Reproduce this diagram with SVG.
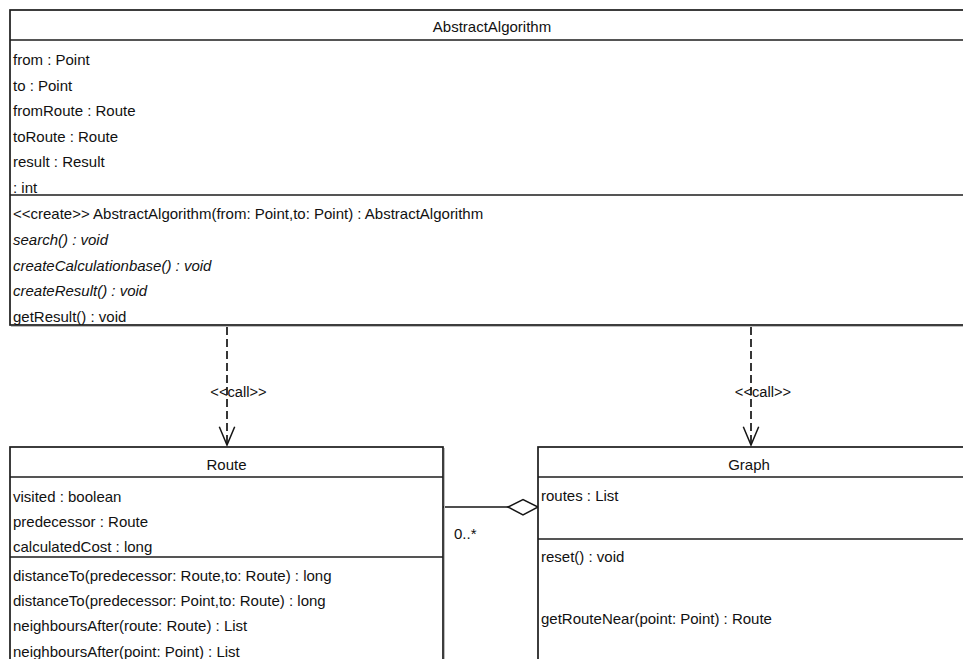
<svg xmlns="http://www.w3.org/2000/svg" width="963" height="659" viewBox="0 0 963 659">
  <defs>
    <style>
      .box { fill: #ffffff; stroke: #1c1c1c; stroke-width: 1.7; }
      .sep { stroke: #1c1c1c; stroke-width: 1.7; fill: none; }
      .shadow { stroke: #bdbdbd; stroke-width: 1; fill: none; }
      text { font-family: "Liberation Sans", Arial, sans-serif; font-size: 15px; fill: #111111; }
      .title { text-anchor: middle; }
      .it { font-style: italic; }
      .dep { stroke: #151515; stroke-width: 1.7; stroke-dasharray: 8 4; fill: none; }
      .head { stroke: #151515; stroke-width: 1.5; fill: none; }
      .assoc { stroke: #151515; stroke-width: 1.5; fill: none; }
      .diamond { stroke: #151515; stroke-width: 1.5; fill: #ffffff; }
      .lbl { font-size: 14.7px; text-anchor: middle; }
    </style>
  </defs>
  <rect width="963" height="659" fill="#ffffff"/>

  <g id="connectors">
    <!-- call dependency to Route -->
    <line class="dep" x1="227" y1="327" x2="227" y2="445"/>
    <polyline class="head" points="219.3,426.7 227,445 234.7,426.7"/>
    <text class="lbl" x="238.5" y="396.5">&lt;&lt;call&gt;&gt;</text>
    <!-- call dependency to Graph -->
    <line class="dep" x1="751" y1="327" x2="751" y2="445"/>
    <polyline class="head" points="743.3,426.7 751,445 758.7,426.7"/>
    <text class="lbl" x="763" y="396.5">&lt;&lt;call&gt;&gt;</text>
    <!-- aggregation Graph <>- Route -->
    <line class="assoc" x1="443" y1="507" x2="508" y2="507"/>
    <polygon class="diamond" points="508,507 523,499.7 538,507 523,515"/>
    <text x="454" y="539">0..*</text>
  </g>

  <g id="AbstractAlgorithm">
    <rect class="box" x="10" y="10" width="970" height="315"/>
    <line class="shadow" x1="11" y1="326.5" x2="963" y2="326.5"/>
    <line class="sep" x1="10" y1="40" x2="980" y2="40"/>
    <line class="sep" x1="10" y1="195" x2="980" y2="195"/>
    <text class="title" x="492" y="32">AbstractAlgorithm</text>
    <text x="13" y="65">from : Point</text>
    <text x="13" y="90.5">to : Point</text>
    <text x="13" y="116">fromRoute : Route</text>
    <text x="13" y="141.5">toRoute : Route</text>
    <text x="13" y="167">result : Result</text>
    <text x="13" y="192.5">: int</text>
    <text x="13" y="219">&lt;&lt;create&gt;&gt; AbstractAlgorithm(from: Point,to: Point) : AbstractAlgorithm</text>
    <text class="it" x="13" y="245">search() : void</text>
    <text class="it" x="13" y="270.5">createCalculationbase() : void</text>
    <text class="it" x="13" y="296">createResult() : void</text>
    <text x="13" y="321.5">getResult() : void</text>
  </g>

  <g id="Route">
    <rect class="box" x="10" y="447" width="433" height="230"/>
    <line class="shadow" x1="444.5" y1="448" x2="444.5" y2="659"/>
    <line class="sep" x1="10" y1="477" x2="443" y2="477"/>
    <line class="sep" x1="10" y1="557" x2="443" y2="557"/>
    <text class="title" x="226.5" y="469.5">Route</text>
    <text x="13" y="501.5">visited : boolean</text>
    <text x="13" y="527.4">predecessor : Route</text>
    <text x="13" y="552.4">calculatedCost : long</text>
    <text x="13" y="580.7">distanceTo(predecessor: Route,to: Route) : long</text>
    <text x="13" y="606.4">distanceTo(predecessor: Point,to: Route) : long</text>
    <text x="13" y="631.4">neighboursAfter(route: Route) : List</text>
    <text x="13" y="657.4">neighboursAfter(point: Point) : List</text>
  </g>

  <g id="Graph">
    <rect class="box" x="538" y="447" width="442" height="230"/>
    <line class="sep" x1="538" y1="477" x2="980" y2="477"/>
    <line class="sep" x1="538" y1="539" x2="980" y2="539"/>
    <text class="title" x="749" y="469.5">Graph</text>
    <text x="541" y="500.7">routes : List</text>
    <text x="541" y="562">reset() : void</text>
    <text x="541" y="623.7">getRouteNear(point: Point) : Route</text>
  </g>
</svg>
